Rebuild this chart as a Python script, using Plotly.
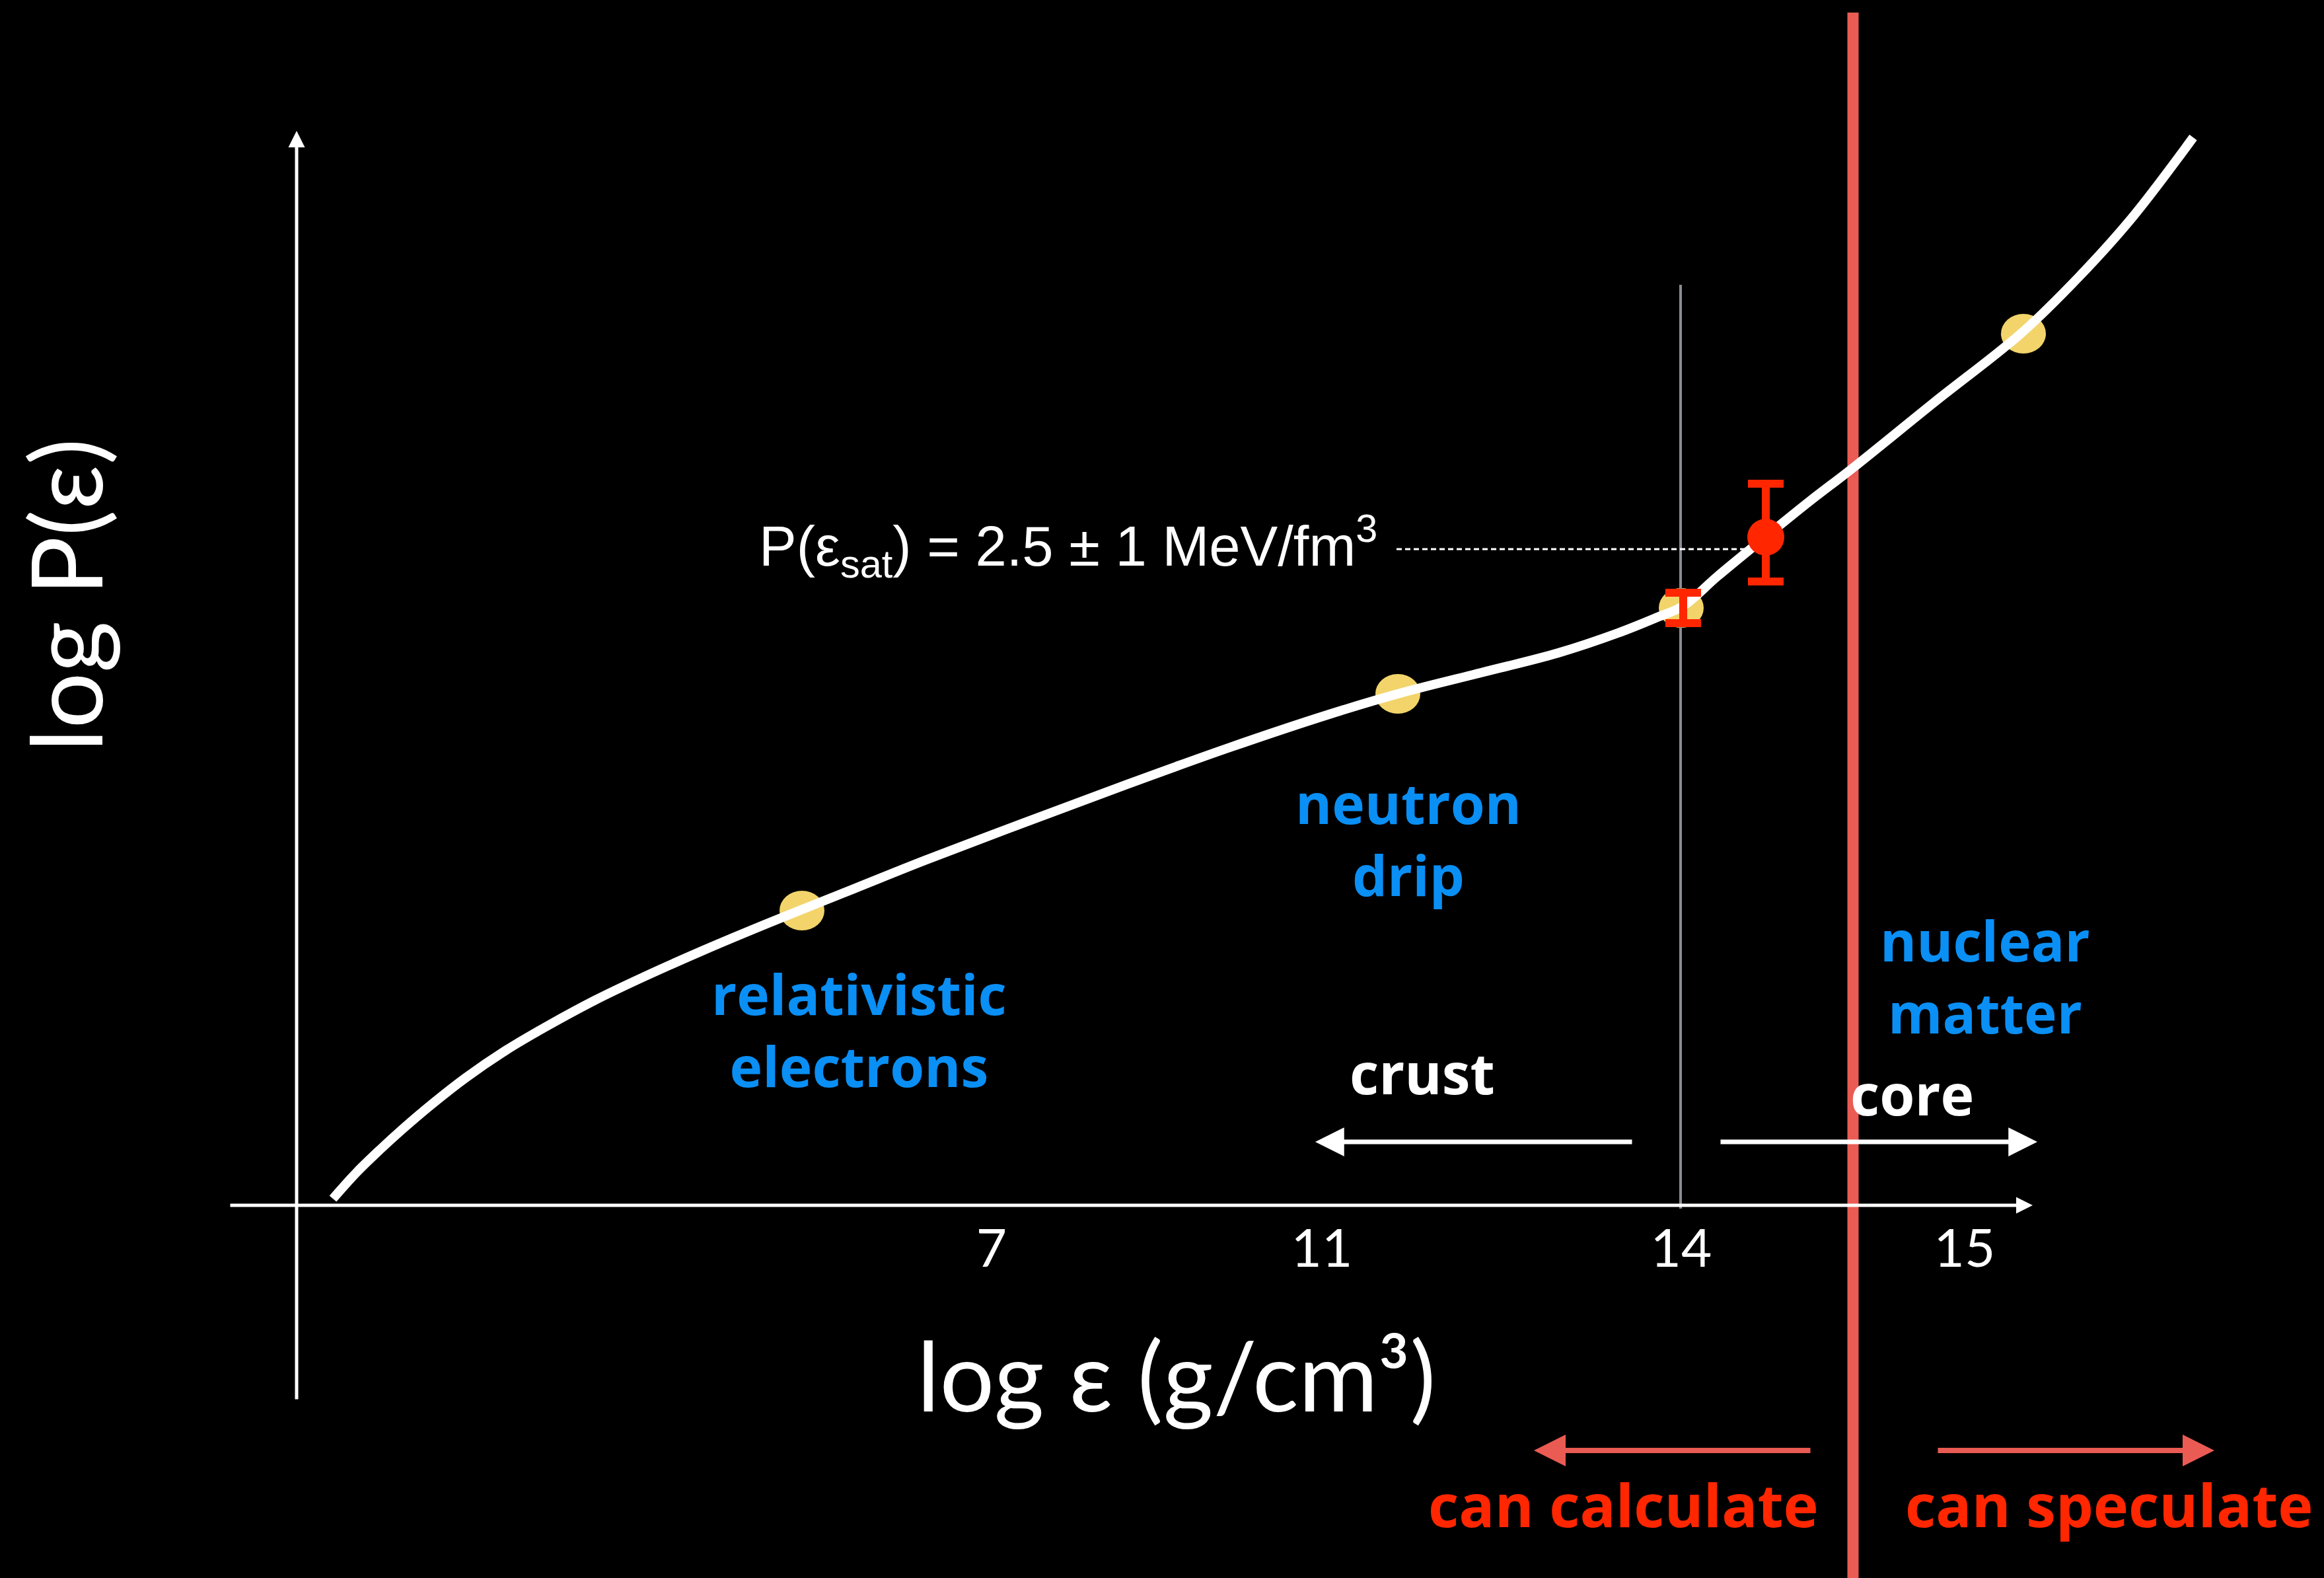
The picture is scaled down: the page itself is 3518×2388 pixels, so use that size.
import plotly.graph_objects as go

# Sketch of the neutron-star equation of state, log P vs log eps.
# Data units are schematic: one unit per pixel, origin at the axes crossing.
W, H = 3518, 2388
X_LO, X_HI = -449, 3069
Y_LO, Y_HI = -564, 1824

# EOS curve (schematic)
eos_x = [55, 91, 126, 160, 206, 256, 316, 377, 451, 524, 616, 709, 766, 851, 951,
         1104, 1257, 1410, 1563, 1667, 1793, 1910, 2000, 2060, 2099, 2151, 2224, 2291,
         2356, 2480, 2611, 2697, 2778, 2871]
eos_y = [10, 50, 84, 115, 154, 193, 234, 270, 310, 345, 386, 425, 448, 482, 522,
         580, 637, 692, 743, 774, 806, 836, 866, 890, 907, 952, 1012, 1066,
         1116, 1216, 1320, 1404, 1494, 1616]

# highlighted points on the curve
marker_x = [765, 1667, 2096, 2614]
marker_y = [446, 774, 904, 1319]

# saturation-density constraints (value and error extents)
sat_x = [2099, 2224]
sat_y = [904, 1011]
sat_err_plus = [23, 81]
sat_err_minus = [23, 67]
sat_dot = [0, 56]

# P(eps_sat) guide line
psat_x = [1665, 2224]
psat_y = [993, 993]

# crust/core boundary and the limit of what can be calculated
boundary_x = [2095, 2095]
boundary_y = [-5, 1393]
limit_x = [2356, 2356]
limit_y = [-564, 1805]

# x ticks (log eps in g/cm^3)
tick_vals = [1052, 1552, 2096, 2525]
tick_text = ["7", "11", "14", "15"]

# axis extents: (tail, tip)
xaxis_ext = (-102, 2628)
yaxis_ext = (-295, 1626)

# region arrows: (tail_x, tip_x, y)
crust_arrow = (2023, 1542, 96)
core_arrow = (2154, 2635, 96)
calc_arrow = (2293, 1873, -371)
spec_arrow = (2483, 2903, -371)

BLUE = "#0a8ff5"
RED = "#ff2600"
CHALK_RED = "#ea5b53"
GOLD = "#f2d46b"

fig = go.Figure()

# limit of calculable densities (chalk red)
fig.add_trace(go.Scatter(x=limit_x, y=limit_y, mode="lines",
                         line=dict(color=CHALK_RED, width=17), hoverinfo="skip"))
# crust/core boundary
fig.add_trace(go.Scatter(x=boundary_x, y=boundary_y, mode="lines",
                         line=dict(color="#8a8d93", width=4), hoverinfo="skip"))
# EOS curve
fig.add_trace(go.Scatter(x=eos_x, y=eos_y, mode="lines",
                         line=dict(color="white", width=14, shape="spline", smoothing=1.0),
                         hoverinfo="skip"))
# guide line to P(eps_sat)
fig.add_trace(go.Scatter(x=psat_x, y=psat_y, mode="lines",
                         line=dict(color="white", width=3, dash="8px,5px"), hoverinfo="skip"))
# saturation constraints
fig.add_trace(go.Scatter(
    x=sat_x, y=sat_y, mode="markers", opacity=1,
    marker=dict(color=RED, size=sat_dot, opacity=1, line=dict(width=0)),
    error_y=dict(type="data", symmetric=False, array=sat_err_plus,
                 arrayminus=sat_err_minus, color=RED, thickness=12, width=27),
    hoverinfo="skip"))

# highlighted points as ellipses under the curve
shapes = []
for cx, cy in zip(marker_x, marker_y):
    shapes.append(dict(type="circle", xref="x", yref="y", layer="below",
                       x0=cx - 34, x1=cx + 34, y0=cy - 30, y1=cy + 30,
                       fillcolor=GOLD, line=dict(width=0)))

annotations = []


def arrow(tail_x, tail_y, tip_x, tip_y, color, width, size):
    annotations.append(dict(x=tip_x, y=tip_y, ax=tail_x, ay=tail_y, xref="x", yref="y",
                            axref="x", ayref="y", text="", showarrow=True,
                            arrowhead=2, arrowsize=size, arrowwidth=width,
                            arrowcolor=color, standoff=0, startstandoff=0))


# axes with arrowheads
arrow(xaxis_ext[0], 0, xaxis_ext[1], 0, "white", 5, 1.0)
arrow(0, yaxis_ext[0], 0, yaxis_ext[1], "white", 5, 1.0)
# region arrows
arrow(crust_arrow[0], crust_arrow[2], crust_arrow[1], crust_arrow[2], "white", 7, 1.25)
arrow(core_arrow[0], core_arrow[2], core_arrow[1], core_arrow[2], "white", 7, 1.25)
arrow(calc_arrow[0], calc_arrow[2], calc_arrow[1], calc_arrow[2], CHALK_RED, 8, 1.2)
arrow(spec_arrow[0], spec_arrow[2], spec_arrow[1], spec_arrow[2], CHALK_RED, 8, 1.2)


def label(text, x, y, color, size, family="Open Sans", bold=True, angle=0, anchor="center"):
    annotations.append(dict(x=x, y=y, xref="x", yref="y", text=text, showarrow=False,
                            xanchor=anchor, yanchor="middle", textangle=angle,
                            font=dict(family=family, size=size, color=color,
                                      weight="bold" if bold else "normal")))


# region labels
label("relativistic<br>electrons", 851, 266, BLUE, 84)
label("neutron<br>drip", 1683, 555, BLUE, 84)
label("nuclear<br>matter", 2556, 347, BLUE, 84)
label("crust", 1704, 202, "white", 86)
label("core", 2445, 170, "white", 86)
label("can calculate", 2008, -452, RED, 90)
label("can speculate", 2744, -452, RED, 90)
label("P(ε<sub>sat</sub>) = 2.5 ± 1 MeV/fm<sup>3</sup>", 698, 998, "white", 85,
      family="Liberation Sans", bold=False, anchor="left")
label("log P(ε)", -352, 923, "white", 150, family="Lato", bold=False, angle=-90)
label("log ε (g/cm³)", 1332, -255, "white", 146, family="Lato", bold=False)

fig.update_layout(
    width=W, height=H, margin=dict(l=0, r=0, t=0, b=0),
    paper_bgcolor="black", plot_bgcolor="black", showlegend=False,
    shapes=shapes, annotations=annotations,
    xaxis=dict(range=[X_LO, X_HI], anchor="free", position=(-Y_LO) / (Y_HI - Y_LO),
               showgrid=False, zeroline=False, showline=False, ticks="",
               tickvals=tick_vals, ticktext=tick_text, ticklabelstandoff=12,
               tickfont=dict(family="Lato", size=80, color="white")),
    yaxis=dict(range=[Y_LO, Y_HI], visible=False),
)

fig.write_html("out.html")
